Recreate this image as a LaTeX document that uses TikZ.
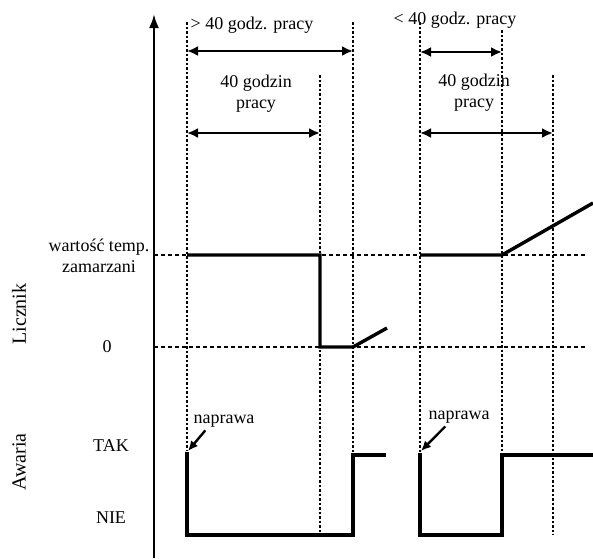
\documentclass[tikz,border=0pt]{standalone}
\usepackage{fontspec}
\setmainfont{Liberation Serif}
\usetikzlibrary{arrows.meta}
\begin{document}
\begin{tikzpicture}[x=1pt,y=-1pt,
  guide/.style={line width=2pt, dash pattern=on 2.5pt off 2pt},
  level/.style={line width=1.8pt, dash pattern=on 4pt off 3pt},
  signal/.style={line width=3.4pt, line join=miter},
  span/.style={line width=2.6pt, {Latex[length=11pt,width=10pt]}-{Latex[length=11pt,width=10pt]}},
  lbl/.style={font=\fontsize{18}{21}\selectfont, inner sep=0pt, align=center},
  side/.style={font=\fontsize{20}{22}\selectfont, inner sep=0pt},
  pointer/.style={line width=2.4pt, -{Latex[length=10pt,width=9pt]}},
]
\useasboundingbox (0,0) rectangle (593,558);

% value axis
\coordinate (ax0) at (154,558);
\coordinate (ax1) at (154,14);
\draw[line width=2.4pt,-{Latex[length=14pt,width=10pt]}] (ax0) -- (ax1);

% vertical time markers
\foreach \name/\x/\ya/\yb in {g1/187/22/450, g2/320/75/535, g3/353/22/455,
                              g4/420/22/452, g5/502/30/535, g6/553/75/535} {
  \coordinate (\name a) at (\x,\ya);
  \coordinate (\name b) at (\x,\yb);
  \draw[guide] (\name a) -- (\name b);
}

% horizontal levels
\coordinate (lv1a) at (154,255);
\coordinate (lv1b) at (586,255);
\coordinate (lv0a) at (154,347);
\coordinate (lv0b) at (586,347);
\draw[level] (lv1a) -- (lv1b);
\draw[level] (lv0a) -- (lv0b);

% counter signal
\coordinate (c1) at (187,255);
\coordinate (c2) at (320,255);
\coordinate (c3) at (320,347);
\coordinate (c4) at (353,347);
\coordinate (c5) at (387,328);
\draw[signal] (c1) -- (c2) -- (c3) -- (c4) -- (c5);
\coordinate (c6) at (420,255);
\coordinate (c7) at (502,255);
\coordinate (c8) at (593,203);
\draw[signal] (c6) -- (c7) -- (c8);

% fault signal
\coordinate (f1) at (187,452);
\coordinate (f2) at (187,535);
\coordinate (f3) at (353,535);
\coordinate (f4) at (353,455);
\coordinate (f5) at (386,455);
\draw[signal] (f1) -- (f2) -- (f3) -- (f4) -- (f5);
\coordinate (f6) at (420,453);
\coordinate (f7) at (420,535);
\coordinate (f8) at (502,535);
\coordinate (f9) at (502,455);
\coordinate (f10) at (593,455);
\draw[signal] (f6) -- (f7) -- (f8) -- (f9) -- (f10);

% working-time spans
\coordinate (s1a) at (187,51);  \coordinate (s1b) at (353,51);
\coordinate (s2a) at (187,133); \coordinate (s2b) at (320,133);
\coordinate (s3a) at (420,52);  \coordinate (s3b) at (502,52);
\coordinate (s4a) at (420,133); \coordinate (s4b) at (553,133);
\draw[span] (s1a) -- (s1b);
\draw[span] (s2a) -- (s2b);
\draw[span] (s3a) -- (s3b);
\draw[span] (s4a) -- (s4b);

% span labels
\node[lbl] (t1) at (252,25) {> 40 godz. pracy};
\node[lbl] (t2) at (256,94) {40 godzin\\pracy};
\node[lbl] (t3) at (455,20) {< 40 godz. pracy};
\node[lbl] (t4) at (474,93) {40 godzin\\pracy};

% axis labels
\node[lbl] (wt) at (99,256) {wartość temp.\\zamarzani};
\node[lbl] (zero) at (107,347) {0};
\node[lbl] (tak) at (111,446) {TAK};
\node[lbl] (nie) at (111,518) {NIE};
\node[side, rotate=90] (licz) at (19,314) {Licznik};
\node[side, rotate=90] (awar) at (19,462) {Awaria};

% repair markers
\node[lbl] (nap1) at (224,421) {naprawa};
\node[lbl] (nap2) at (459,417) {naprawa};
\coordinate (r1) at (188,451);
\coordinate (r2) at (421,451);
\draw[pointer] ([xshift=12pt,yshift=-3pt]nap1.south west) -- (r1);
\draw[pointer] ([xshift=17pt,yshift=-3pt]nap2.south west) -- (r2);
\end{tikzpicture}
\end{document}
